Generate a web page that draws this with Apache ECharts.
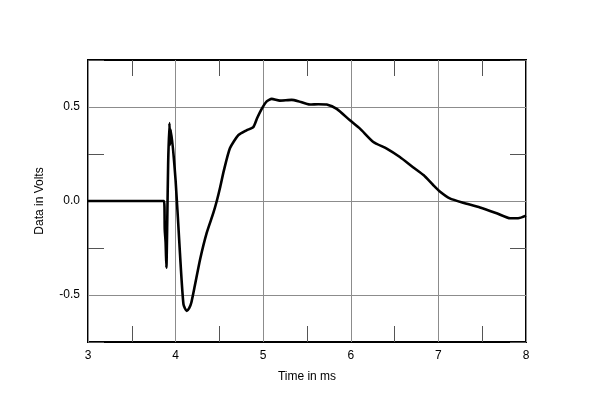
<!DOCTYPE html>
<html>
<head>
    <meta charset="utf-8">
    <title>Impulse response</title>
    <script src="https://cdn.jsdelivr.net/npm/echarts@6/dist/echarts.min.js"></script>
    <style>
        html, body {margin: 0; padding: 0; background: #fff;}
        #main {width: 600px; height: 405px;}
    </style>
</head>
<body>
<div id="main"></div>
<script>
    // time in ms, voltage
    var timeMs = [3.0, 3.868, 3.876, 3.886, 3.895, 3.905, 3.915, 3.93, 3.937, 3.945,
        4.0, 4.05, 4.09, 4.127, 4.155, 4.18, 4.22, 4.28, 4.355, 4.43, 4.47, 4.51, 4.55,
        4.62, 4.716, 4.81, 4.887, 4.93, 4.983, 5.04, 5.097, 5.19, 5.325, 5.40, 5.534,
        5.63, 5.725, 5.839, 5.99, 6.105, 6.257, 6.41, 6.56, 6.71, 6.83, 6.94, 7.02,
        7.13, 7.28, 7.475, 7.665, 7.82, 7.91, 8.0];
    var volts = [0.0, 0.0, -0.15, -0.22, -0.355, -0.1, 0.2, 0.414, 0.3, 0.38,
        0.11, -0.28, -0.55, -0.585, -0.57, -0.54, -0.45, -0.31, -0.17, -0.065, 0.0, 0.076, 0.16,
        0.28, 0.35, 0.376, 0.393, 0.44, 0.49, 0.53, 0.543, 0.534, 0.538, 0.531, 0.513,
        0.515, 0.513, 0.49, 0.429, 0.385, 0.314, 0.279, 0.234, 0.18, 0.138, 0.085, 0.049,
        0.014, -0.009, -0.034, -0.065, -0.092, -0.092, -0.078];
    var xTicks = [3, 4, 5, 6, 7, 8];
    var yTicks = [-0.5, 0.0, 0.5];

    var points = timeMs.map(function (t, i) {
        return [t, volts[i]];
    });

    var font = 'Liberation Sans, Arial, sans-serif';
    var grid = '#8c8c8c';

    function minor() {
        return {show: true, splitNumber: 2, length: 16, lineStyle: {color: '#555', width: 1}};
    }

    var chart = echarts.init(document.getElementById('main'));
    chart.setOption({
        animation: false,
        grid: {left: 88, right: 74, top: 60, bottom: 63, show: true, borderColor: '#000', borderWidth: 2},
        xAxis: [
            {
                type: 'value', min: xTicks[0], max: xTicks[xTicks.length - 1], interval: 1,
                name: 'Time in ms', nameLocation: 'middle', nameGap: 29,
                nameTextStyle: {color: '#000', fontFamily: font, fontSize: 12},
                axisLine: {show: false, onZero: false},
                axisTick: {show: true, inside: true, length: 0},
                minorTick: minor(),
                axisLabel: {color: '#000', fontFamily: font, fontSize: 12, margin: 8},
                splitLine: {show: true, lineStyle: {color: grid, width: 1}}
            },
            {
                type: 'value', position: 'top', min: 3, max: 8, interval: 1,
                axisLine: {show: false, onZero: false},
                axisTick: {show: true, inside: true, length: 0},
                minorTick: minor(),
                axisLabel: {show: false},
                splitLine: {show: false}
            }
        ],
        yAxis: [
            {
                type: 'value', min: -0.75, max: 0.75, interval: 0.25,
                name: 'Data in Volts', nameLocation: 'middle', nameGap: 42, nameRotate: 90,
                nameTextStyle: {color: '#000', fontFamily: font, fontSize: 12},
                axisLine: {show: false, onZero: false},
                axisTick: {show: true, inside: true, length: 16, lineStyle: {color: '#555'}},
                axisLabel: {
                    color: '#000', fontFamily: font, fontSize: 12, margin: 8,
                    formatter: function (v) {
                        return yTicks.indexOf(v) >= 0 ? v.toFixed(1) : '';
                    }
                },
                splitLine: {show: false}
            },
            {
                type: 'value', position: 'right', min: -0.75, max: 0.75, interval: 0.25,
                axisLine: {show: false, onZero: false},
                axisTick: {show: true, inside: true, length: 16, lineStyle: {color: '#555'}},
                axisLabel: {show: false},
                splitLine: {show: false}
            }
        ],
        series: [
            {
                // horizontal grid lines at the labelled values
                type: 'line', data: [], silent: true,
                markLine: {
                    symbol: 'none', silent: true, label: {show: false},
                    lineStyle: {color: grid, width: 1, type: 'solid'},
                    data: yTicks.map(function (v) { return {yAxis: v}; })
                }
            },
            {
                type: 'line',
                data: points,
                smooth: 0.2,
                symbol: 'none',
                lineStyle: {color: '#000', width: 2.6},
                z: 5
            }
        ]
    });
</script>
</body>
</html>
